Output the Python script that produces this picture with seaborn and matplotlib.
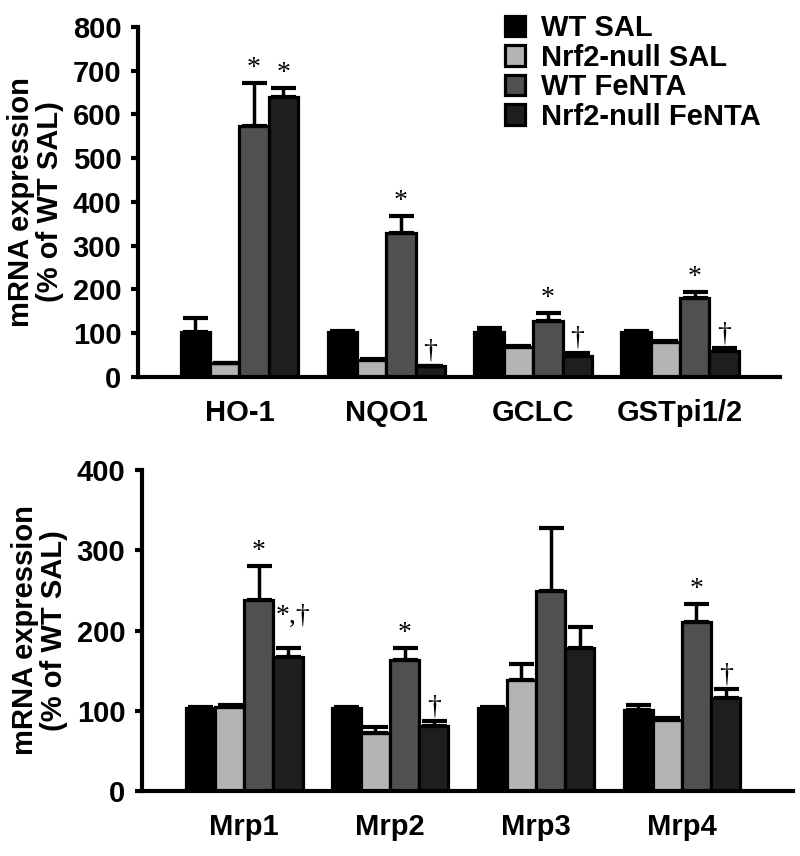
import numpy as np
import pandas as pd
import matplotlib
matplotlib.use("Agg")
import matplotlib.pyplot as plt
import seaborn as sns

groups = ["WT SAL", "Nrf2-null SAL", "WT FeNTA", "Nrf2-null FeNTA"]
colors = ["#000000", "#b4b4b4", "#505050", "#1e1e1e"]

genes_top = ["HO-1", "NQO1", "GCLC", "GSTpi1/2"]
top_means = {
    "WT SAL":          [103, 103, 103, 103],
    "Nrf2-null SAL":   [31, 39, 68, 80],
    "WT FeNTA":        [574, 330, 128, 180],
    "Nrf2-null FeNTA": [640, 24, 48, 60],
}
top_err = {
    "WT SAL":          [32, 3, 9, 2],
    "Nrf2-null SAL":   [1, 1, 2, 2],
    "WT FeNTA":        [98, 38, 19, 15],
    "Nrf2-null FeNTA": [21, 2, 7, 6],
}
top_marks = {
    "WT FeNTA":        ["*", "*", "*", "*"],
    "Nrf2-null FeNTA": ["*", "†", "†", "†"],
}

genes_bot = ["Mrp1", "Mrp2", "Mrp3", "Mrp4"]
bot_means = {
    "WT SAL":          [103, 103, 104, 101],
    "Nrf2-null SAL":   [105, 72, 138, 89],
    "WT FeNTA":        [238, 163, 249, 211],
    "Nrf2-null FeNTA": [167, 81, 178, 116],
}
bot_err = {
    "WT SAL":          [2, 2, 1, 6],
    "Nrf2-null SAL":   [2, 8, 20, 2],
    "WT FeNTA":        [43, 15, 79, 22],
    "Nrf2-null FeNTA": [11, 6, 26, 11],
}
bot_marks = {
    "WT FeNTA":        ["*", "*", "", "*"],
    "Nrf2-null FeNTA": ["*,†", "†", "", "†"],
}

sns.set_style("white")
plt.rcParams["font.family"] = ["Liberation Sans", "DejaVu Sans"]
plt.rcParams["font.weight"] = "bold"
for k in ["text.color", "axes.labelcolor", "xtick.color", "ytick.color"]:
    plt.rcParams[k] = "black"

FS = 21


def long_df(genes, means):
    rows = []
    for g in groups:
        for gene, v in zip(genes, means[g]):
            rows.append({"gene": gene, "group": g, "value": v})
    return pd.DataFrame(rows)


def draw(ax, genes, means, errs, marks, ymax, pxunit):
    df = long_df(genes, means)
    sns.barplot(data=df, x="gene", y="value", hue="group", hue_order=groups,
                palette=colors, order=genes, width=0.8, errorbar=None,
                edgecolor="black", linewidth=2.3, legend=False, ax=ax,
                saturation=1)
    for g, cont in zip(groups, ax.containers):
        xs = [b.get_x() + b.get_width() / 2 for b in cont]
        ys = [b.get_height() for b in cont]
        e = errs[g]
        ax.errorbar(xs, ys, yerr=[np.zeros(len(e)), e], fmt="none",
                    ecolor="black", elinewidth=2.5, capsize=9, capthick=3,
                    zorder=1)
        if g in marks:
            for x, y, ee, m in zip(xs, ys, e, marks[g]):
                if not m:
                    continue
                if "," in m:
                    # combined mark sits higher and a bit to the right
                    ax.annotate(m, (x, y + ee), xytext=(4, 14),
                                textcoords="offset points", ha="center",
                                va="bottom", fontsize=20, fontweight="normal",
                                family=["Liberation Serif"])
                else:
                    ax.text(x, y + ee + pxunit, m, ha="center", va="bottom",
                            fontsize=20, fontweight="normal",
                            family=["Liberation Serif"])
    ax.set_ylim(0, ymax)
    ax.set_yticks(np.arange(0, ymax + 1, 100))
    sns.despine(ax=ax)
    for s in ["left", "bottom"]:
        ax.spines[s].set_linewidth(3)
        ax.spines[s].set_color("black")
    ax.tick_params(axis="y", direction="out", length=5, width=3,
                   labelsize=FS, left=True, pad=7)
    ax.tick_params(axis="x", length=0, labelsize=FS, pad=16)
    for lab in ax.get_xticklabels() + ax.get_yticklabels():
        lab.set_fontweight("bold")
    ax.set_xlabel("")
    ax.set_ylabel("mRNA expression\n(% of WT SAL)", fontsize=FS,
                  fontweight="bold", linespacing=1.05, labelpad=6)


fig = plt.figure(figsize=(8, 8.56), dpi=100)
ax1 = fig.add_axes([0.1725, 0.5596, 0.8025, 0.4089])
ax2 = fig.add_axes([0.1775, 0.0759, 0.8135, 0.3750])

draw(ax1, genes_top, top_means, top_err, top_marks, 800, 800 / 350 * 2)
draw(ax2, genes_bot, bot_means, bot_err, bot_marks, 400, 400 / 321 * 2)
ax1.set_xlim(-0.69, 3.68)
ax2.set_xlim(-0.70, 3.76)

handles = [plt.Rectangle((0, 0), 1, 1, facecolor=c, edgecolor="black",
                         linewidth=2.3) for c in colors]
fig.legend(handles, groups, loc="upper left", bbox_to_anchor=(0.624, 0.99),
           frameon=False, prop={"size": FS, "weight": "bold"},
           handlelength=0.7, handleheight=0.7, handletextpad=0.55,
           labelspacing=0.05, borderaxespad=0.0, borderpad=0.2)

fig.savefig("out.png", dpi=100)
